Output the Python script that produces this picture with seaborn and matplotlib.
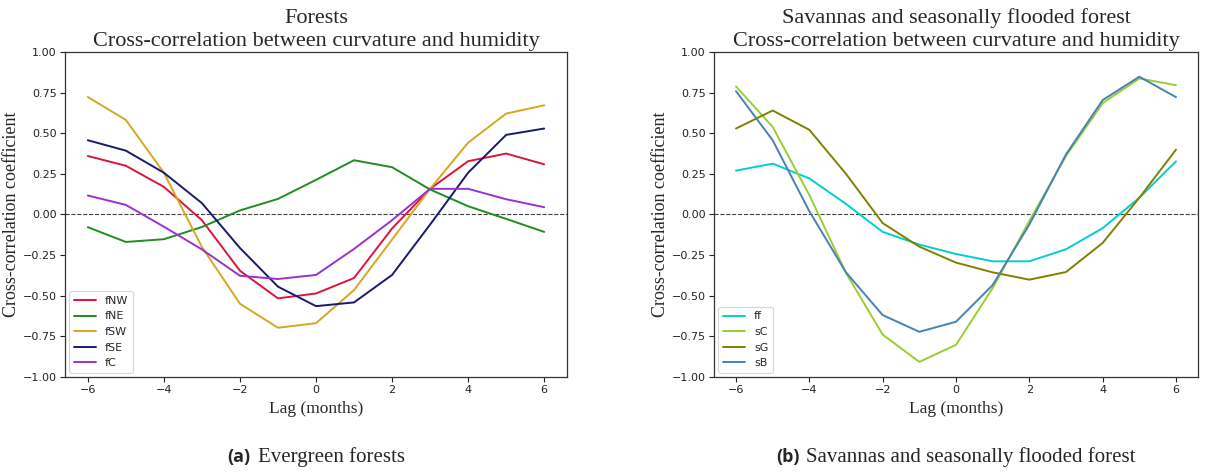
import numpy as np
import pandas as pd
import matplotlib
matplotlib.use("Agg")
import matplotlib.pyplot as plt
import seaborn as sns
from matplotlib.offsetbox import TextArea, HPacker, AnnotationBbox

# ---------------- data ----------------
lags = [-6, -5, -4, -3, -2, -1, 0, 1, 2, 3, 4, 5, 6]

forest_names = ["fNW", "fNE", "fSW", "fSE", "fC"]
fNW = [0.36, 0.30, 0.17, -0.035, -0.346, -0.516, -0.486, -0.391, -0.086, 0.158, 0.328, 0.375, 0.309]
fNE = [-0.078, -0.169, -0.152, -0.077, 0.025, 0.096, 0.213, 0.334, 0.291, 0.154, 0.051, -0.027, -0.107]
fSW = [0.723, 0.582, 0.257, -0.20, -0.549, -0.697, -0.669, -0.465, -0.154, 0.158, 0.442, 0.621, 0.672]
fSE = [0.457, 0.393, 0.257, 0.070, -0.206, -0.444, -0.564, -0.541, -0.372, -0.062, 0.257, 0.490, 0.529]
fC = [0.117, 0.059, -0.075, -0.215, -0.377, -0.397, -0.372, -0.212, -0.035, 0.158, 0.158, 0.094, 0.045]
forest_colors = ["crimson", "forestgreen", "goldenrod", "midnightblue", "darkorchid"]

sav_names = ["ff", "sC", "sG", "sB"]
ff = [0.270, 0.313, 0.222, 0.065, -0.107, -0.185, -0.243, -0.288, -0.288, -0.214, -0.084, 0.103, 0.327]
sC = [0.788, 0.539, 0.12, -0.36, -0.739, -0.907, -0.802, -0.453, -0.04, 0.36, 0.685, 0.837, 0.796]
sG = [0.529, 0.640, 0.521, 0.25, -0.053, -0.198, -0.296, -0.356, -0.401, -0.354, -0.175, 0.103, 0.399]
sB = [0.759, 0.457, 0.02, -0.356, -0.619, -0.722, -0.660, -0.434, -0.062, 0.370, 0.704, 0.848, 0.722]
sav_colors = ["darkturquoise", "yellowgreen", "olive", "steelblue"]

yticks = [-1.00, -0.75, -0.50, -0.25, 0.00, 0.25, 0.50, 0.75, 1.00]
xticks = [-6, -4, -2, 0, 2, 4, 6]

titles = ["Forests\nCross-correlation between curvature and humidity",
          "Savannas and seasonally flooded forest\nCross-correlation between curvature and humidity"]
cap_tags = ["(a)", "(b)"]
cap_texts = ["Evergreen forests", "Savannas and seasonally flooded forest"]
xlabel = "Lag (months)"
ylabel = "Cross-correlation coefficient"

# ---------------- style ----------------
sns.set_style("ticks")
plt.rcParams["font.family"] = ["DejaVu Sans"]
SERIF = "Liberation Serif"

fig = plt.figure(figsize=(12.10, 4.72), dpi=100)
ax1 = fig.add_axes([65 / 1210, 1 - 377 / 472, (567 - 65) / 1210, (377 - 52) / 472])
ax2 = fig.add_axes([714 / 1210, 1 - 377 / 472, (1198 - 714) / 1210, (377 - 52) / 472])


def long_df(names, series):
    rows = []
    for n, s in zip(names, series):
        for l, v in zip(lags, s):
            rows.append({"lag": l, "value": v, "series": n})
    return pd.DataFrame(rows)


df1 = long_df(forest_names, [fNW, fNE, fSW, fSE, fC])
df2 = long_df(sav_names, [ff, sC, sG, sB])

for ax, df, names, cols, title, in [(ax1, df1, forest_names, forest_colors, titles[0]),
                                     (ax2, df2, sav_names, sav_colors, titles[1])]:
    sns.lineplot(data=df, x="lag", y="value", hue="series", hue_order=names,
                 palette=dict(zip(names, cols)), linewidth=1.4, ax=ax)
    ax.axhline(0, color="black", linestyle="--", linewidth=0.8, alpha=0.75, zorder=0)
    ax.set_ylim(-1, 1)
    ax.set_xlim(-6.6, 6.6)
    ax.set_yticks(yticks)
    ax.set_yticklabels([f"{t:.2f}".replace("-", "\u2212") for t in yticks])
    ax.set_xticks(xticks)
    ax.set_xticklabels([str(t).replace("-", "\u2212") for t in xticks])
    ax.tick_params(labelsize=8, length=3.5, width=0.8, pad=2.5, colors="#222222")
    for sp in ax.spines.values():
        sp.set_color("#333333")
        sp.set_linewidth(0.9)
    ax.set_title(title, fontfamily=SERIF, fontsize=16, linespacing=1.3, pad=4)
    ax.set_xlabel(xlabel, fontfamily=SERIF, fontsize=12.5, labelpad=4)
    ax.set_ylabel(ylabel, fontfamily=SERIF, fontsize=13, labelpad=2)
    leg = ax.legend(loc="lower left", fontsize=8, frameon=True, handlelength=2.0,
                    borderaxespad=0.4)
    leg.get_frame().set_edgecolor("#cccccc")
    leg.get_frame().set_linewidth(0.8)

# captions
for ax, tag, txt in [(ax1, cap_tags[0], cap_texts[0]), (ax2, cap_tags[1], cap_texts[1])]:
    pos = ax.get_position()
    xc = (pos.x0 + pos.x1) / 2
    ta = TextArea(tag, textprops=dict(fontfamily="Open Sans", fontweight="bold", fontsize=13))
    tb = TextArea(txt, textprops=dict(fontfamily=SERIF, fontsize=15))
    pack = HPacker(children=[ta, tb], align="baseline", pad=0, sep=5)
    ab = AnnotationBbox(pack, (xc, 1 - 457 / 472), xycoords="figure fraction",
                        frameon=False, box_alignment=(0.5, 0.5))
    fig.add_artist(ab)

fig.savefig("out.png", dpi=100)
